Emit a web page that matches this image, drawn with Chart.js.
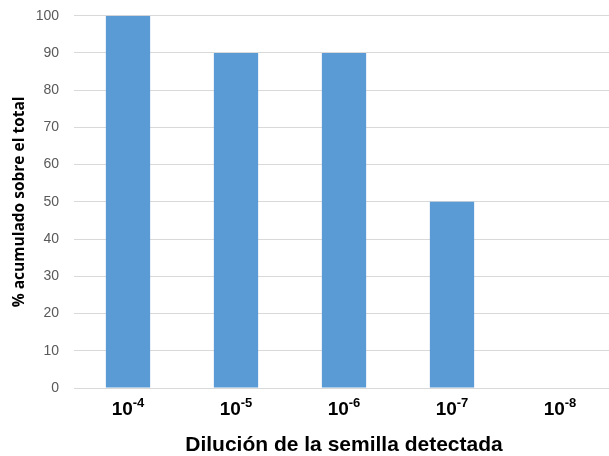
<!DOCTYPE html>
<html>
<head>
<meta charset="utf-8">
<script src="https://cdn.jsdelivr.net/npm/chart.js@4.4.1/dist/chart.umd.min.js"></script>
<style>
  html, body { margin: 0; padding: 0; background: #ffffff; overflow: hidden; }
  #wrap { width: 614px; height: 456px; }
</style>
</head>
<body>
<div id="wrap"><canvas id="c" width="614" height="456"></canvas></div>
<script>
// Dilution exponents (10^n) and cumulative detection percentages
const exponents = [-4, -5, -6, -7, -8];
const categories = exponents.map(e => '10' + e);
const percentValues = [100, 90, 90, 50, 0];
const yTicks = [0, 10, 20, 30, 40, 50, 60, 70, 80, 90, 100];

const xTitle = 'Dilución de la semilla detectada';
const yTitle = '% acumulado sobre el total';

// Draws "10" with a raised exponent under each category
const powerLabels = {
  id: 'powerLabels',
  afterDraw(chart) {
    const ctx = chart.ctx;
    const xs = chart.scales.x;
    const baseFont = 'bold 19px "Liberation Sans", Arial, sans-serif';
    const supFont = 'bold 13px "Liberation Sans", Arial, sans-serif';
    ctx.save();
    ctx.fillStyle = '#000000';
    ctx.textBaseline = 'alphabetic';
    ctx.textAlign = 'left';
    exponents.forEach((e, i) => {
      const cx = xs.getPixelForValue(i);
      const base = '10';
      const sup = String(e);
      ctx.font = baseFont;
      const wb = ctx.measureText(base).width;
      ctx.font = supFont;
      const ws = ctx.measureText(sup).width;
      const x0 = cx - (wb + ws) / 2;
      ctx.font = baseFont;
      ctx.fillText(base, x0, 415);
      ctx.font = supFont;
      ctx.fillText(sup, x0 + wb, 407);
    });
    ctx.restore();
  }
};

new Chart(document.getElementById('c'), {
  type: 'bar',
  data: {
    labels: categories,
    datasets: [{
      data: percentValues,
      backgroundColor: '#5b9bd5',
      borderWidth: 0,
      categoryPercentage: 1.0,
      barPercentage: 0.41
    }]
  },
  options: {
    responsive: false,
    animation: false,
    layout: { padding: { top: 0, left: 0, right: 0, bottom: 0 } },
    plugins: { legend: { display: false }, tooltip: { enabled: false } },
    scales: {
      x: {
        grid: { display: false, drawTicks: false },
        border: { display: false },
        ticks: { display: false },
        title: {
          display: true,
          text: xTitle,
          color: '#000000',
          font: { family: '"Liberation Sans", Arial, sans-serif', size: 21, weight: 'bold', lineHeight: 1.0 },
          padding: { top: 0, bottom: 0 }
        },
        afterFit(scale) { scale.height = 68; }
      },
      y: {
        min: 0,
        max: 100,
        afterBuildTicks(scale) { scale.ticks = yTicks.map(v => ({ value: v })); },
        grid: { color: '#d9d9d9', lineWidth: 1, drawTicks: false },
        border: { display: false },
        ticks: {
          color: '#595959',
          padding: 15,
          font: { family: '"Liberation Sans", Arial, sans-serif', size: 14, lineHeight: 0.1 }
        },
        title: {
          display: true,
          text: yTitle,
          color: '#000000',
          font: { family: '"Open Sans", sans-serif', size: 15.5, weight: 'bold', lineHeight: 1.2 },
          padding: { top: 10, bottom: 0 }
        },
        afterFit(scale) { scale.width = 74; }
      }
    }
  },
  plugins: [powerLabels]
});
</script>
</body>
</html>
